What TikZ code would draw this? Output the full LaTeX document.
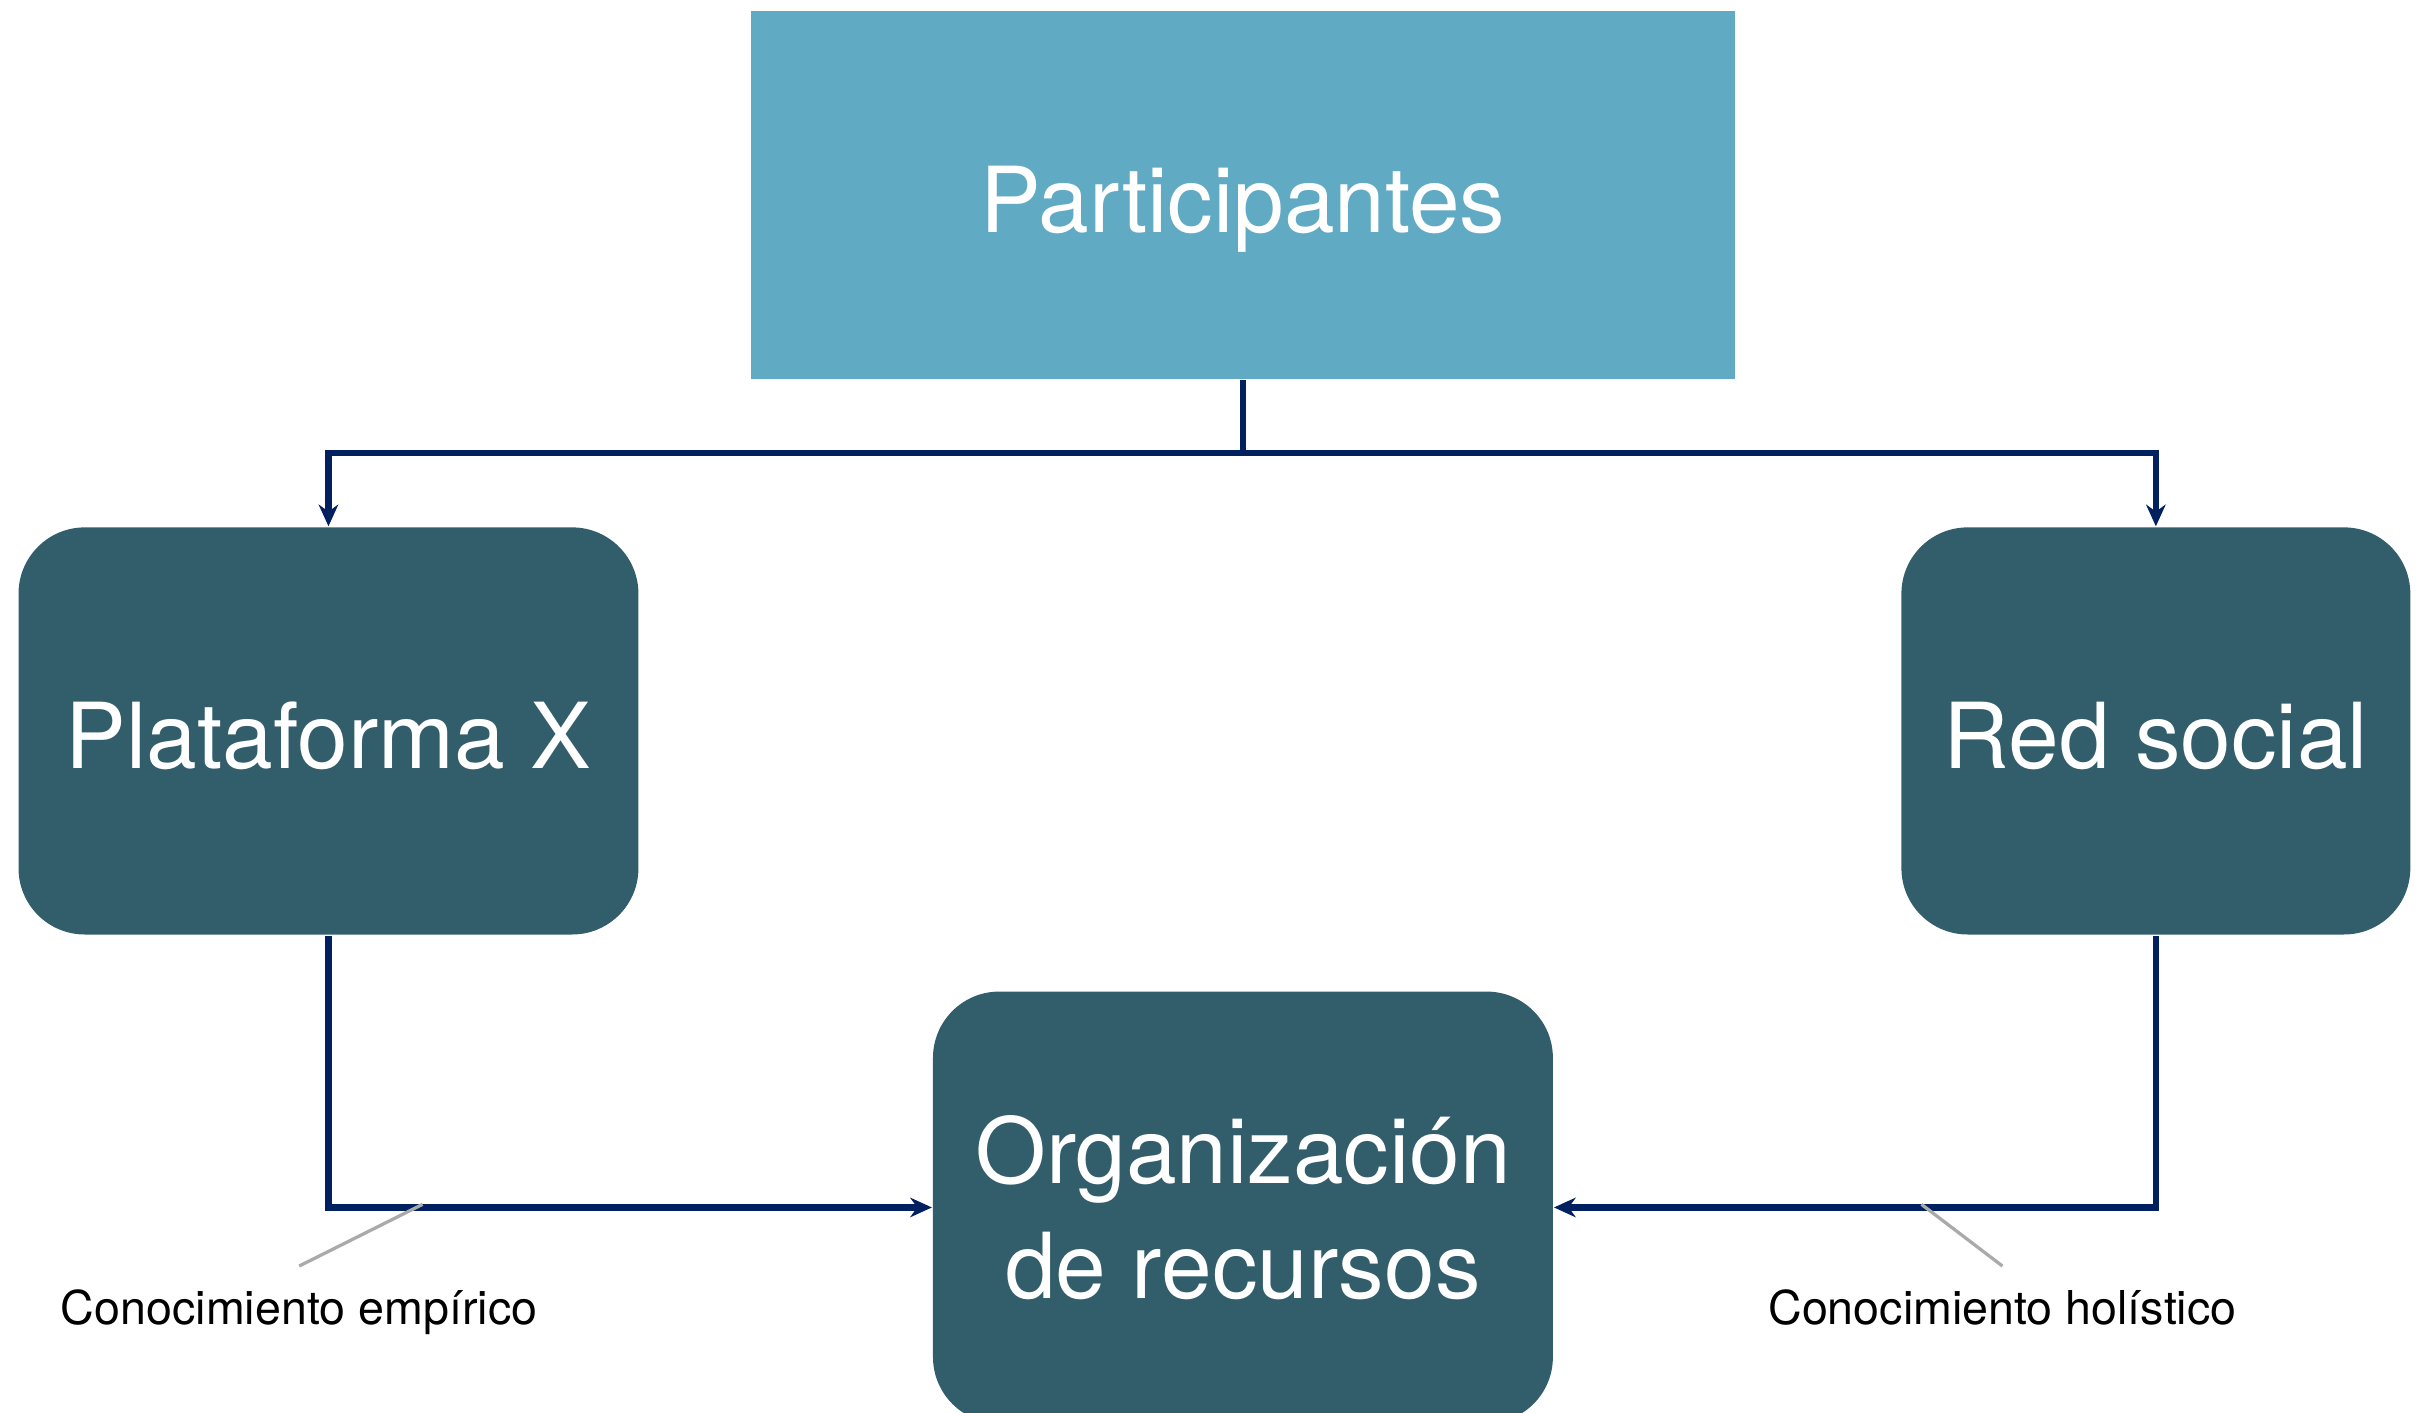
\documentclass[tikz,border=0pt]{standalone}
\usepackage{fontspec}
\setmainfont{TeX Gyre Heros}
\usetikzlibrary{shapes,arrows.meta}
\usetikzlibrary{positioning}
\usetikzlibrary{calc}
\definecolor{mylightblue}{RGB}{97,170,195}
\definecolor{mydarkteal}{RGB}{50,93,107}
\definecolor{mynavy}{RGB}{0,32,96}
\definecolor{mygray}{RGB}{170,170,170}

\begin{document}
\begin{tikzpicture}[
mytop/.style={
  rectangle,
  fill=mylightblue,
  text=white,
  text height=0.49cm,
  text depth=0cm,
  font=\fontsize{16.8}{21.3}\selectfont},
mybox/.style={
  rectangle,
  rounded corners=0.43cm,
  fill=mydarkteal,
  text=white,
  align=center,
  font=\fontsize{16.8}{21.3}\selectfont},
myone/.style={
  text height=0.49cm,
  text depth=0cm},
myline/.style={
  draw=mynavy,
  line width=1.2pt,
  -{Stealth[length=4pt,width=3.6pt]}},
mynote/.style={
  anchor=base,
  font=\fontsize{8.6}{10}\selectfont},
mycallout/.style={
  draw=mygray,
  line width=0.6pt}
]
\useasboundingbox (0,0) rectangle (15.68,-9.16);
\node[mytop,minimum width=6.38cm,minimum height=2.39cm] (part) at (8.06,-1.265) {Participantes};
\node[mybox,myone,minimum width=4.02cm,minimum height=2.64cm] (plat) at (2.13,-4.74) {Plataforma X};
\node[mybox,myone,minimum width=3.30cm,minimum height=2.64cm] (red) at (13.98,-4.74) {Red social};
\node[mybox,minimum width=4.02cm,minimum height=2.80cm] (org) at (8.06,-7.83) {Organización\\de recursos};
\node[mynote] (emp) at (1.94,-8.59) {Conocimiento empírico};
\node[mynote] (hol) at (12.985,-8.59) {Conocimiento holístico};
\coordinate (split) at ($(part.south)+(0,-0.47)$);
\coordinate (empPt) at (2.74,-7.81);
\coordinate (holPt) at (12.46,-7.81);
\draw[myline,-] (part.south) -- (split);
\draw[myline] (split) -| (plat.north);
\draw[myline] (split) -| (red.north);
\draw[myline] (plat.south) |- (org.west);
\draw[myline] (red.south) |- (org.east);
\draw[mycallout] (empPt) -- ([yshift=3.8mm]emp.base);
\draw[mycallout] (holPt) -- ([yshift=3.8mm]hol.base);
\end{tikzpicture}
\end{document}
